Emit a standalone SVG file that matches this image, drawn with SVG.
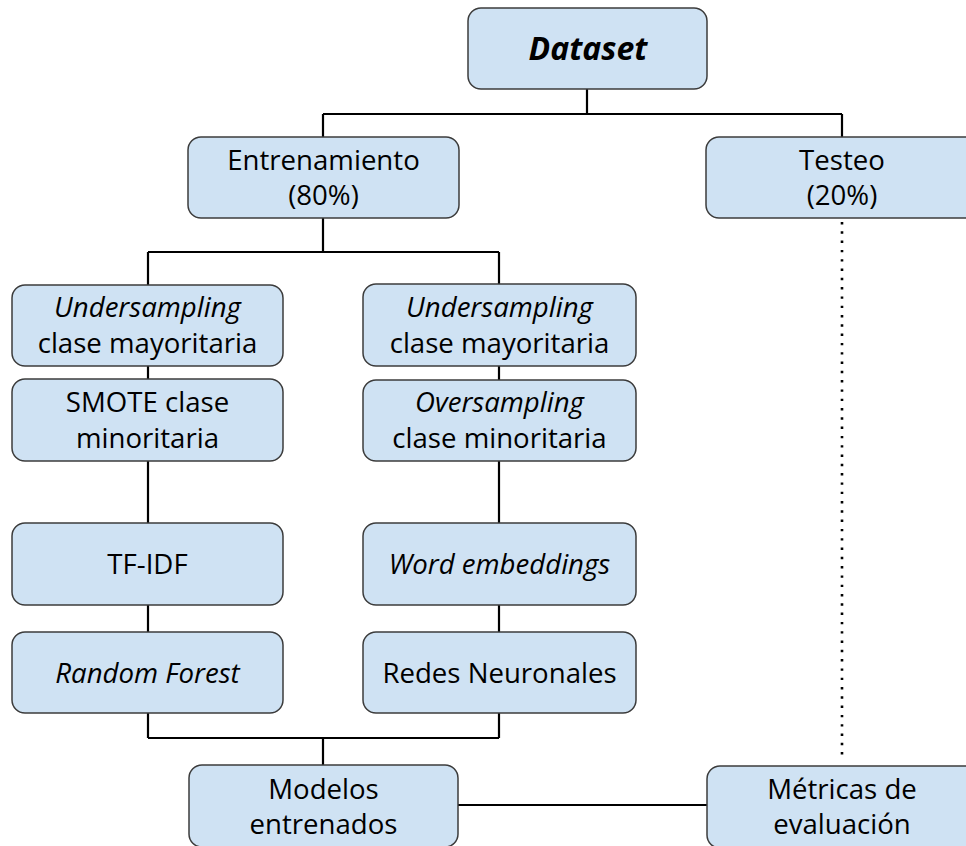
<svg xmlns="http://www.w3.org/2000/svg" width="966" height="846" viewBox="0 0 966 846">
  <style>
    .box { fill: #cfe2f3; stroke: #3c3c3c; stroke-width: 1.5; }
    .t { font-family: "Open Sans", "Noto Sans", sans-serif; font-size: 27.6px; fill: #000; text-anchor: middle; }
    .i { font-style: italic; }
    .b { font-weight: bold; }
    .wire { fill: none; stroke: #000; stroke-width: 2.2; }
    .dots { fill: none; stroke: #000; stroke-width: 2.6; stroke-dasharray: 2.4 6.9; }
  </style>
  <rect width="966" height="846" fill="#fff"/>

  <g id="connectors">
    <path class="wire" d="M587 89 V114 M323 114 H842 M323 114 V137 M842 114 V137"/>
    <path class="wire" d="M323 218 V252 M148 252 H499 M148 252 V285 M499 252 V285"/>
    <path class="wire" d="M148 366 V379 M148 461 V523 M148 605 V632 M148 713 V738"/>
    <path class="wire" d="M499 366 V380 M499 461 V523 M499 605 V632 M499 713 V738"/>
    <path class="wire" d="M148 738 H499 M323 738 V765 M458 805 H707"/>
    <path class="dots" d="M842 222 V758"/>
  </g>

  <g id="dataset">
    <rect class="box" x="468" y="8" width="239" height="81" rx="13"/>
    <text class="t i b" x="588" y="60" style="font-size:32px">Dataset</text>
  </g>

  <g id="entrenamiento">
    <rect class="box" x="188" y="137" width="271" height="81" rx="13"/>
    <text class="t" x="323.5" y="170">Entrenamiento</text>
    <text class="t" x="323.5" y="205">(80%)</text>
  </g>

  <g id="testeo">
    <rect class="box" x="706" y="137" width="272" height="81" rx="13"/>
    <text class="t" x="842" y="170">Testeo</text>
    <text class="t" x="842" y="205">(20%)</text>
  </g>

  <g id="undersampling-a">
    <rect class="box" x="12" y="285" width="271" height="81" rx="13"/>
    <text class="t i" x="147.5" y="317">Undersampling</text>
    <text class="t" x="147.5" y="353">clase mayoritaria</text>
  </g>

  <g id="smote">
    <rect class="box" x="12" y="379" width="271" height="82" rx="13"/>
    <text class="t" x="147.5" y="412">SMOTE clase</text>
    <text class="t" x="147.5" y="448">minoritaria</text>
  </g>

  <g id="tfidf">
    <rect class="box" x="12" y="523" width="271" height="82" rx="13"/>
    <text class="t" x="147.5" y="574">TF-IDF</text>
  </g>

  <g id="random-forest">
    <rect class="box" x="12" y="632" width="271" height="81" rx="13"/>
    <text class="t i" x="147.5" y="683">Random Forest</text>
  </g>

  <g id="undersampling-b">
    <rect class="box" x="363" y="284" width="273" height="82" rx="13"/>
    <text class="t i" x="499.5" y="317">Undersampling</text>
    <text class="t" x="499.5" y="353">clase mayoritaria</text>
  </g>

  <g id="oversampling">
    <rect class="box" x="363" y="380" width="273" height="81" rx="13"/>
    <text class="t i" x="499.5" y="412">Oversampling</text>
    <text class="t" x="499.5" y="448">clase minoritaria</text>
  </g>

  <g id="word-embeddings">
    <rect class="box" x="363" y="523" width="273" height="82" rx="13"/>
    <text class="t i" x="499.5" y="574">Word embeddings</text>
  </g>

  <g id="redes-neuronales">
    <rect class="box" x="363" y="632" width="273" height="81" rx="13"/>
    <text class="t" x="499.5" y="683">Redes Neuronales</text>
  </g>

  <g id="modelos">
    <rect class="box" x="189" y="765" width="269" height="82" rx="13"/>
    <text class="t" x="323.5" y="799">Modelos</text>
    <text class="t" x="323.5" y="834">entrenados</text>
  </g>

  <g id="metricas">
    <rect class="box" x="707" y="766" width="272" height="82" rx="13"/>
    <text class="t" x="842" y="799">Métricas de</text>
    <text class="t" x="842" y="834">evaluación</text>
  </g>
</svg>
